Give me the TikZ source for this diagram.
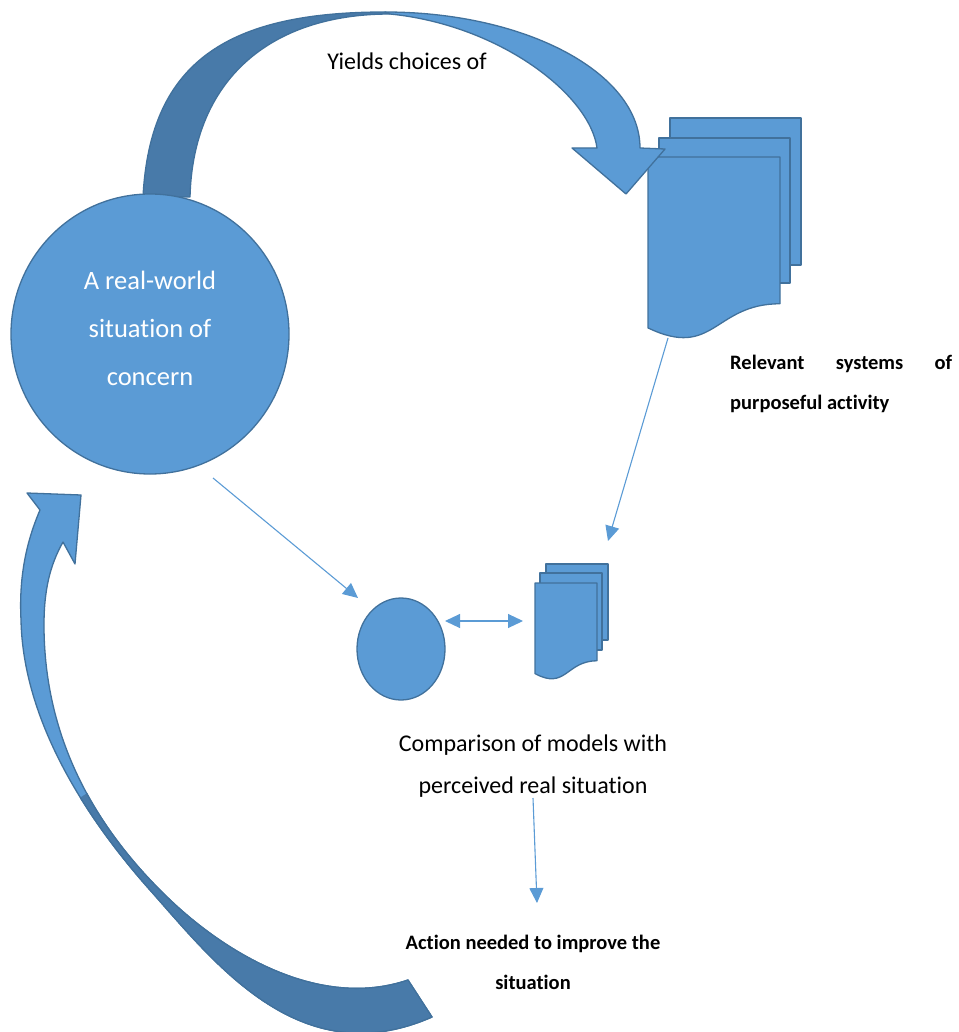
\documentclass[tikz,border=0pt]{standalone}
\usepackage{fontspec}
\setmainfont{Carlito}[Ligatures=NoCommon]
\usetikzlibrary{arrows.meta,shapes.geometric}

\definecolor{fillblue}{RGB}{91,155,213}
\definecolor{edgeblue}{RGB}{65,113,156}
\definecolor{backblue}{RGB}{72,122,169}
\definecolor{linkblue}{RGB}{91,155,213}

\tikzset{
  shapefill/.style={fill=fillblue, draw=edgeblue, line width=1.3pt, line join=round},
  backfill/.style={fill=backblue, draw=edgeblue, line width=1.3pt, line join=round},
  link/.style={draw=linkblue, line width=1.1pt, -{Triangle[length=15pt,width=14pt]}},
  twolink/.style={draw=linkblue, line width=1.1pt,
    {Triangle[length=15pt,width=14pt]}-{Triangle[length=15pt,width=14pt]}},
  lbl/.style={font=\fontsize{24}{42}\selectfont, align=center, inner sep=0pt},
  blbl/.style={font=\fontsize{20.5}{40}\selectfont\bfseries, inner sep=0pt},
}

% front page of a document stack: name, x, y, width, height (wavy bottom edge)
\newcommand\frontsheet[5]{%
  \path[shapefill] (#2,#3) -- ({#2+#4},#3) -- ({#2+#4},{#3+0.802*#5})
    .. controls ({#2+0.5*#4},{#3+0.802*#5}) and ({#2+0.5*#4},{#3+1.107*#5})
    .. (#2,{#3+0.934*#5}) -- cycle;
  \node[inner sep=0pt, minimum width=#4pt, minimum height=#5pt] (#1)
    at ({#2+0.5*#4},{#3+0.5*#5}) {};}

% outline of the lower (returning) curved arrow: outer edge, tail, inner edge, head
\newcommand\lowerband{(40,510)
  .. controls (25,545) and (19,580) .. (21,620)
  .. controls (23,720) and (85,817) .. (150,890)
  .. controls (215,963) and (300,1075) .. (432,1017)
  -- (408,980)
  .. controls (320,1010) and (225,954) .. (165,895)
  .. controls (80,812) and (44,720) .. (44,625)
  .. controls (44,590) and (50,565) .. (63,542)
  -- (75,564) -- (81,495) -- (27,493) -- cycle}

\begin{document}
\begin{tikzpicture}[x=1pt,y=-1pt]
\useasboundingbox (0,0) rectangle (958,1032);

% ---- document stack: relevant systems
\path[shapefill] (670,118) rectangle (801,265);
\path[shapefill] (659,138) rectangle (790,283);
\frontsheet{bigdoc}{648}{157}{132}{183}

% ---- document stack: models
\path[shapefill] (546,564) rectangle (608,640);
\path[shapefill] (540,573) rectangle (602,650);
\frontsheet{smalldoc}{535}{583}{62}{97}

% ---- upper curved arrow: back face, then front face with head
\path[backfill] (143,197) .. controls (150,60) and (230,12) .. (385,12)
  -- (390,14) .. controls (270,14) and (193,80) .. (190,197) -- cycle;
\path[shapefill] (385,12) .. controls (526,12) and (640,73) .. (640,148)
  -- (665,149) -- (626,194) -- (572,148) -- (597,148)
  .. controls (590,95) and (500,25) .. (390,14) -- cycle;

% ---- lower curved arrow: front face, back face towards the tail
\path[shapefill] \lowerband;
\begin{scope}
  \clip (-10,857) -- (180,732) -- (1000,732) -- (1000,1100) -- (-10,1100) -- cycle;
  \path[backfill] \lowerband;
\end{scope}

% ---- situation and comparison shapes
\node[shapefill, ellipse, minimum width=278pt, minimum height=280pt, inner sep=0pt] (situation) at (150,334) {};
\node[lbl, text=white, font=\fontsize{26.5}{48}\selectfont] (sittext) at (150,328)
  {A real-world\\situation of\\concern};
\node[shapefill, ellipse, minimum width=88pt, minimum height=102pt, inner sep=0pt] (percv) at (401,649) {};

% ---- labels
\node[lbl] (yields) at (407,61) {Yields choices of};
\node[blbl, anchor=west, align=left] (relevant) at (730,384)
  {\makebox[222pt][s]{Relevant systems of}\\purposeful activity};
\node[lbl] (compare) at (533,766) {Comparison of models with\\perceived real situation};
\node[blbl, align=center] (action) at (533,962) {Action needed to improve the\\situation};

% ---- connectors
\coordinate (sitout) at (213,478);
\coordinate (percvin) at (358,598);
\coordinate (docout) at (668,338);
\coordinate (modelsin) at (608,541);
\coordinate (percvright) at (445,621);
\coordinate (modelsleft) at (523,621);
\coordinate (compout) at (533,798);
\coordinate (actionin) at (537,903);

\draw[link] (sitout) -- (percvin);
\draw[link] (docout) -- (modelsin);
\draw[twolink] (percvright) -- (modelsleft);
\draw[link] (compout) -- (actionin);
\end{tikzpicture}
\end{document}
